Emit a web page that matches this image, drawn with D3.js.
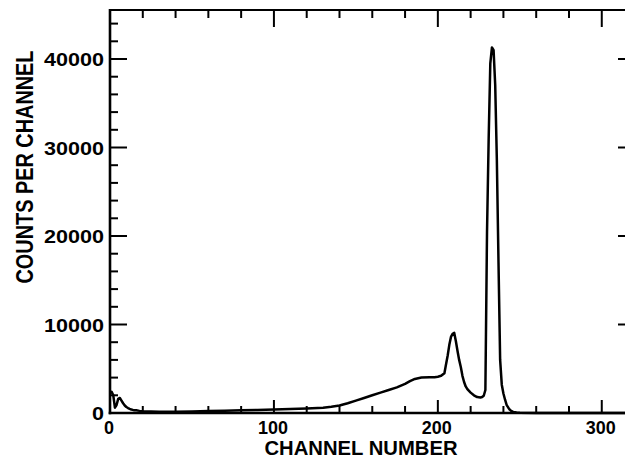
<!DOCTYPE html>
<html><head><meta charset="utf-8">
<script src="https://cdn.jsdelivr.net/npm/d3@7"></script>
<style>
html,body{margin:0;padding:0;background:#fff;}
svg{display:block;}
text{font-family:"Liberation Sans",Arial,sans-serif;fill:#000;font-weight:bold;}
</style></head>
<body>
<svg id="chart" width="625" height="458"></svg>
<script>
// Data
const channels = [0,1,2,3,4,5,6,7,8,9,10,11,12,13,14,15,16,18,20,25,30,40,50,60,70,80,90,100,110,120,130,135,140,145,150,155,160,165,170,175,180,183,186,190,195,198,200,202,204,205,206,207,208,209,210,211,212,213,214,215,216,217,218,220,222,224,226,227,228,229,230,231,232,233,234,235,236,237,238,239,240,241,242,243,244,245,246,248,250,260,280,300,316];
const counts   = [2300,2400,2000,600,900,1600,1700,1400,1100,850,680,560,470,400,350,320,300,240,200,170,150,150,170,220,260,300,340,400,450,520,600,700,850,1100,1400,1700,2000,2300,2600,2900,3300,3600,3850,4000,4050,4050,4100,4200,4500,5500,6500,7700,8600,8950,9050,8100,7000,6000,5200,4200,3500,3000,2700,2300,2000,1800,1750,1800,1950,2600,20500,31000,39500,41300,41000,37000,28500,17000,6000,3200,2200,1500,900,600,350,200,120,50,20,10,0,0,0];
const xMajorTicks = [0,100,200,300];
const xMinorTicks = d3.range(20,320,20);
const yMajorTicks = [0,10000,20000,30000,40000];
const yMinorTicks = d3.range(2000,45001,2000);
const xTitle = "CHANNEL NUMBER";
const yTitle = "COUNTS PER CHANNEL";

const svg = d3.select("#chart");
const x = d3.scaleLinear().domain([0,316]).range([110,628]);
const y = d3.scaleLinear().domain([0,45537]).range([413,10]);
const yT = y.range()[1], yB = y(0), xL = x(0), xR = x(316);

const data = channels.map((c,i)=>({c, v:counts[i]}));

// frame lines
const frame = svg.append("g");
function seg(x1,y1,x2,y2,w){
  frame.append("line").attr("x1",x1).attr("y1",y1).attr("x2",x2).attr("y2",y2)
    .attr("stroke","#000").attr("stroke-width",w);
}
seg(xL, yB+1.3, xL, yT-1, 2.6);
seg(xL-1.3, yB, xR, yB, 2.6);
seg(xL, yT, xR, yT, 2);
seg(xR, yB, xR, yT, 2);

// tick marks (inside the frame)
const xMinorOnly = xMinorTicks.filter(d=>!xMajorTicks.includes(d));
const yMinorOnly = yMinorTicks.filter(d=>!yMajorTicks.includes(d));
const xMajorIn = xMajorTicks.filter(d=>d>0);
const yMajorIn = yMajorTicks.filter(d=>d>0);
const tickSpecs = [];
xMinorOnly.forEach(d=>{ tickSpecs.push({x1:x(d),x2:x(d),y1:yB,y2:yB-7}); tickSpecs.push({x1:x(d),x2:x(d),y1:yT,y2:yT+8}); });
xMajorIn.forEach(d=>{ tickSpecs.push({x1:x(d),x2:x(d),y1:yB,y2:yB-13}); tickSpecs.push({x1:x(d),x2:x(d),y1:yT,y2:yT+17}); });
yMinorOnly.forEach(d=>{ tickSpecs.push({x1:xL,x2:xL+8,y1:y(d),y2:y(d)}); });
yMajorIn.forEach(d=>{ tickSpecs.push({x1:xL,x2:xL+17,y1:y(d),y2:y(d)}); tickSpecs.push({x1:xR,x2:xR-10,y1:y(d),y2:y(d)}); });
svg.append("g").selectAll("line").data(tickSpecs).join("line")
  .attr("x1",d=>d.x1).attr("x2",d=>d.x2).attr("y1",d=>d.y1).attr("y2",d=>d.y2)
  .attr("stroke","#000").attr("stroke-width",2);

// tick labels
svg.append("g").selectAll("text").data(yMajorTicks).join("text")
  .attr("x",104).attr("y",d=>y(d)+7)
  .attr("text-anchor","end")
  .attr("font-size",19)
  .attr("textLength",d=>String(d).length*12)
  .attr("lengthAdjust","spacingAndGlyphs")
  .text(d=>d);
svg.append("g").selectAll("text").data(xMajorTicks).join("text")
  .attr("x",d=>x(d)-1).attr("y",434)
  .attr("text-anchor","middle")
  .attr("font-size",18)
  .attr("textLength",d=>String(d).length*10)
  .attr("lengthAdjust","spacingAndGlyphs")
  .text(d=>d);

// axis titles
svg.append("text").attr("x",361).attr("y",455).attr("text-anchor","middle")
  .attr("font-size",20).attr("textLength",193).attr("lengthAdjust","spacingAndGlyphs").text(xTitle);
svg.append("text").attr("transform","translate(33,167) rotate(-90)").attr("text-anchor","middle")
  .attr("font-size",23).attr("textLength",233).attr("lengthAdjust","spacingAndGlyphs").text(yTitle);

// spectrum line
const line = d3.line().x(d=>x(d.c)).y(d=>y(d.v));
svg.append("path").datum(data).attr("d",line)
  .attr("fill","none").attr("stroke","#000").attr("stroke-width",2.5).attr("stroke-linejoin","round");
</script>
</body></html>
